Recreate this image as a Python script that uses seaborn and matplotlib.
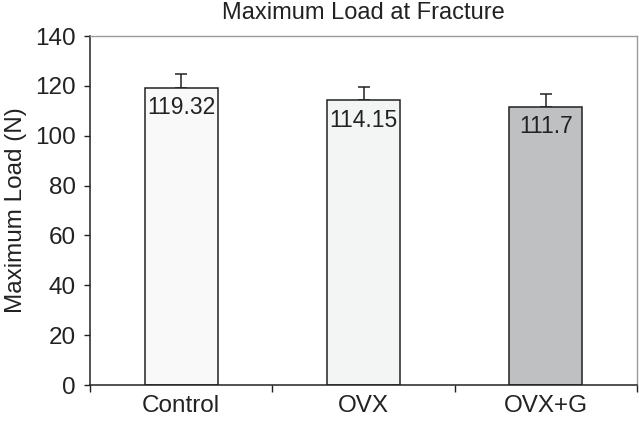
import matplotlib
matplotlib.use("Agg")
import matplotlib.pyplot as plt
import seaborn as sns
import pandas as pd
from matplotlib.ticker import FixedLocator

categories = ["Control", "OVX", "OVX+G"]
values = [119.32, 114.15, 111.7]
errors = [5.3, 5.3, 5.2]
labels = ["119.32", "114.15", "111.7"]
colors = ["#f9f9f9", "#f3f5f5", "#bfc0c2"]

sns.set_style("white")
plt.rcParams['font.family'] = ['Liberation Sans', 'DejaVu Sans']

df = pd.DataFrame({"cat": categories, "val": values})

fig = plt.figure(figsize=(6.39, 4.24), dpi=100)
ax = fig.add_axes([90/639, 1-385/424, (637-90)/639, (385-36)/424])

sns.barplot(data=df, x="cat", y="val", hue="cat", palette=colors, width=0.4,
            edgecolor="#222222", linewidth=1.1, legend=False, ax=ax, errorbar=None)

ax.errorbar(range(len(categories)), values, yerr=[[0]*3, errors], fmt="none",
            ecolor="#222222", elinewidth=1.1, capsize=4, capthick=1.1, zorder=0)

for i, (v, t) in enumerate(zip(values, labels)):
    ax.annotate(t, (i, v), xytext=(0, -6), textcoords="offset points",
                ha="center", va="top", fontsize=16.5, color="#222222")

ax.set_xlim(-0.5, 2.5)
ax.set_ylim(0, 140)
ax.set_yticks(range(0, 141, 20))
ax.set_xlabel("")
ax.set_ylabel("Maximum Load (N)", fontsize=17.5, color="#222222", labelpad=6)
ax.set_title("Maximum Load at Fracture", fontsize=17, color="#222222", pad=12)

ax.tick_params(axis="x", which="major", length=0, labelsize=17.5, colors="#222222", pad=7)
ax.xaxis.set_minor_locator(FixedLocator([-0.5, 0.5, 1.5, 2.5]))
ax.tick_params(axis="x", which="minor", length=5, width=1, color="#222222", bottom=True)
ax.tick_params(axis="y", which="major", length=4, width=1, left=True, labelsize=17.5,
               colors="#222222", pad=6)

for s in ["left", "bottom"]:
    ax.spines[s].set_color("#222222")
    ax.spines[s].set_linewidth(1.1)
for s in ["top", "right"]:
    ax.spines[s].set_color("#9a9a9a")
    ax.spines[s].set_linewidth(1.0)

fig.savefig("out.png", dpi=100)
